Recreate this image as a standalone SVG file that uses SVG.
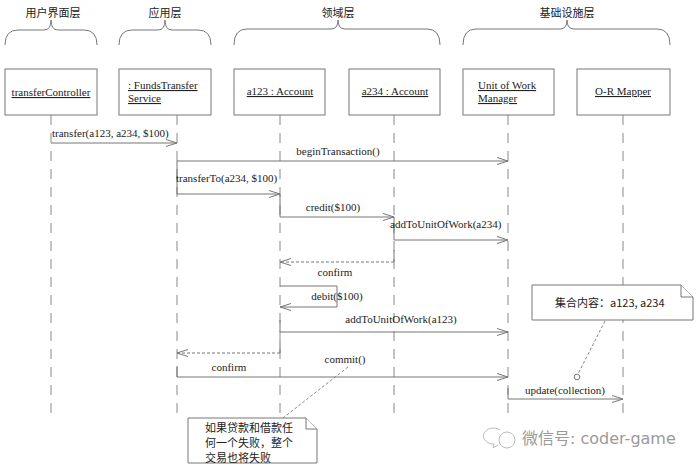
<svg xmlns="http://www.w3.org/2000/svg" width="700" height="469" viewBox="0 0 700 469">
<defs>
<style>
.bg{fill:#fff}
.t{font-family:"Liberation Serif","Times New Roman",serif;font-size:11px;fill:#222}
.u{text-decoration:underline}
.cn{font-family:"Noto Sans CJK SC","Noto Sans",sans-serif;font-size:11px;fill:#222}
.box{fill:#fff;stroke:#777;stroke-width:1}
.brace{fill:none;stroke:#777;stroke-width:1}
.life{stroke:#888;stroke-width:1;stroke-dasharray:10 8;fill:none}
.msg{stroke:#777;stroke-width:1;fill:none}
.ret{stroke:#777;stroke-width:1;fill:none;stroke-dasharray:3 2}
.note{fill:#fff;stroke:#777;stroke-width:1}
.anchor{stroke:#888;stroke-width:1;stroke-dasharray:3 2;fill:none}
.wm{font-family:"DejaVu Sans","Noto Sans CJK SC",sans-serif;font-size:16px;fill:#9a9a9a}
</style>
<marker id="arr" markerUnits="userSpaceOnUse" markerWidth="12" markerHeight="8" refX="11" refY="4" orient="auto">
<path d="M0,0.5 L11,4 L0,7.5" fill="none" stroke="#777" stroke-width="1"/>
</marker>
</defs>
<rect class="bg" x="0" y="0" width="700" height="469"/>

<g id="layers">
<text class="cn" x="53" y="17" text-anchor="middle">用户界面层</text>
<path class="brace" d="M5,45 Q5,30 18,30 L44,30 Q51,30 51,20 Q51,30 58,30 L84,30 Q97,30 97,45"/>
<text class="cn" x="165" y="17" text-anchor="middle">应用层</text>
<path class="brace" d="M119,45 Q119,30 132,30 L158,30 Q165,30 165,20 Q165,30 172,30 L198,30 Q211,30 211,45"/>
<text class="cn" x="338" y="17" text-anchor="middle">领域层</text>
<path class="brace" d="M234,45 Q234,29 247,29 L331,29 Q338,29 338,20 Q338,29 345,29 L427,29 Q440,29 440,45"/>
<text class="cn" x="567" y="17" text-anchor="middle">基础设施层</text>
<path class="brace" d="M463,45 Q463,29 476,29 L560,29 Q567,29 567,20 Q567,29 574,29 L657,29 Q670,29 670,45"/>
</g>

<g id="lifelines">
<line class="life" x1="51" y1="115" x2="51" y2="420"/>
<line class="life" x1="177" y1="115" x2="177" y2="420"/>
<line class="life" x1="280" y1="115" x2="280" y2="420"/>
<line class="life" x1="394" y1="115" x2="394" y2="420"/>
<line class="life" x1="508" y1="115" x2="508" y2="420"/>
<line class="life" x1="623" y1="115" x2="623" y2="420"/>
</g>

<g id="transferController">
<rect class="box" x="5" y="69" width="92" height="46"/>
<text class="t u" x="51" y="96" text-anchor="middle">transferController</text>
</g>
<g id="FundsTransferService">
<rect class="box" x="119" y="69" width="92" height="46"/>
<text class="t u" x="128" y="89">: FundsTransfer</text>
<text class="t u" x="128" y="102">Service</text>
</g>
<g id="a123">
<rect class="box" x="234" y="69" width="91" height="46"/>
<text class="t u" x="280" y="95" text-anchor="middle">a123 : Account</text>
</g>
<g id="a234">
<rect class="box" x="349" y="69" width="91" height="46"/>
<text class="t u" x="395" y="95" text-anchor="middle">a234 : Account</text>
</g>
<g id="UnitOfWorkManager">
<rect class="box" x="463" y="69" width="91" height="46"/>
<text class="t u" x="478" y="89">Unit of Work</text>
<text class="t u" x="478" y="102">Manager</text>
</g>
<g id="ORMapper">
<rect class="box" x="577" y="69" width="93" height="46"/>
<text class="t u" x="623" y="95" text-anchor="middle">O-R Mapper</text>
</g>

<g id="connectors">
<line class="msg" x1="51" y1="143" x2="177" y2="143" marker-end="url(#arr)"/>
<text class="t" x="52" y="137">transfer(a123, a234, $100)</text>

<line class="msg" x1="177" y1="161" x2="508" y2="161" marker-end="url(#arr)"/>
<text class="t" x="338" y="155" text-anchor="middle">beginTransaction()</text>

<line class="msg" x1="177" y1="161" x2="177" y2="194"/>
<line class="msg" x1="177" y1="194" x2="280" y2="194" marker-end="url(#arr)"/>
<text class="t" x="176" y="182">transferTo(a234, $100)</text>

<line class="msg" x1="280" y1="194" x2="280" y2="217"/>
<line class="msg" x1="280" y1="217" x2="394" y2="217" marker-end="url(#arr)"/>
<text class="t" x="333" y="211" text-anchor="middle">credit($100)</text>

<line class="msg" x1="394" y1="217" x2="394" y2="240"/>
<line class="msg" x1="394" y1="240" x2="508" y2="240" marker-end="url(#arr)"/>
<text class="t" x="390" y="228">addToUnitOfWork(a234)</text>

<line class="msg" x1="394" y1="250" x2="394" y2="262"/>
<line class="ret" x1="394" y1="262" x2="280" y2="262" marker-end="url(#arr)"/>
<text class="t" x="335" y="276" text-anchor="middle">confirm</text>

<polyline class="msg" points="280,286 337,286 337,307 280,307" marker-end="url(#arr)"/>
<text class="t" x="337" y="300" text-anchor="middle">debit($100)</text>

<line class="msg" x1="280" y1="320" x2="280" y2="332"/>
<line class="msg" x1="280" y1="332" x2="508" y2="332" marker-end="url(#arr)"/>
<text class="t" x="401" y="323" text-anchor="middle">addToUnitOfWork(a123)</text>

<line class="msg" x1="280" y1="341" x2="280" y2="353"/>
<line class="ret" x1="280" y1="353" x2="177" y2="353" marker-end="url(#arr)"/>

<line class="msg" x1="177" y1="366" x2="177" y2="377"/>
<line class="msg" x1="177" y1="377" x2="508" y2="377" marker-end="url(#arr)"/>
<text class="t" x="229" y="371" text-anchor="middle">confirm</text>
<text class="t" x="345" y="363" text-anchor="middle">commit()</text>

<line class="msg" x1="508" y1="388" x2="508" y2="399"/>
<line class="msg" x1="508" y1="399" x2="623" y2="399" marker-end="url(#arr)"/>
<text class="t" x="565" y="394" text-anchor="middle">update(collection)</text>

<line class="anchor" x1="605" y1="321" x2="578" y2="374"/>
<circle cx="577" cy="377" r="2.8" fill="#fff" stroke="#777" stroke-width="1"/>
<line class="anchor" x1="348" y1="367" x2="283" y2="418"/>
</g>

<g id="note-collection">
<path class="note" d="M532,285 L681,285 L693,297 L693,320 L532,320 Z"/>
<path class="note" d="M681,285 L681,297 L693,297" fill="none"/>
<text class="cn" x="555" y="307">集合内容：a123, a234</text>
</g>

<g id="note-fail">
<path class="note" d="M188,418 L306,418 L317,429 L317,463 L188,463 Z"/>
<path class="note" d="M306,418 L306,429 L317,429" fill="none"/>
<text class="cn" x="205" y="432">如果贷款和借款任</text>
<text class="cn" x="205" y="447">何一个失败，整个</text>
<text class="cn" x="205" y="462">交易也将失败</text>
</g>

<g id="watermark">
<path d="M500,430 a10,8 0 1 0 -6,14 l-1,4 l5,-3" fill="none" stroke="#bbb" stroke-width="1"/>
<circle cx="507" cy="440" r="8" fill="none" stroke="#bbb" stroke-width="1"/>
<text class="wm" x="522" y="444">微信号: coder-game</text>
</g>
</svg>
